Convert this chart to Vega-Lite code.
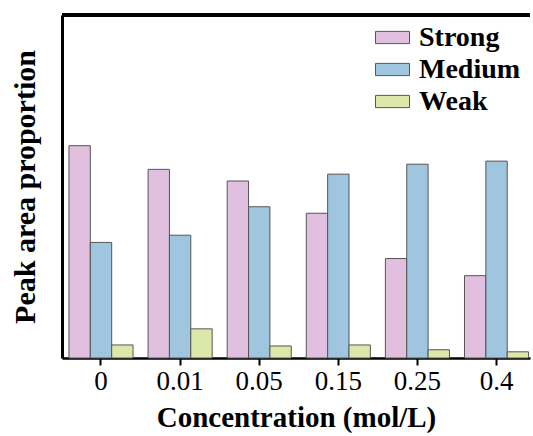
{
  "$schema": "https://vega.github.io/schema/vega-lite/v6.json",
  "width": 468,
  "height": 343,
  "autosize": {"type": "none"},
  "padding": {"left": 62, "top": 15, "right": 3, "bottom": 78},
  "background": "white",
  "config": {"view": {"stroke": null}, "font": "Liberation Serif, Times New Roman, serif"},
  "data": {
    "values": [
      {"conc": "0", "type": "Strong", "value": 0.619},
      {"conc": "0", "type": "Medium", "value": 0.337},
      {"conc": "0", "type": "Weak", "value": 0.038},
      {"conc": "0.01", "type": "Strong", "value": 0.550},
      {"conc": "0.01", "type": "Medium", "value": 0.358},
      {"conc": "0.01", "type": "Weak", "value": 0.085},
      {"conc": "0.05", "type": "Strong", "value": 0.516},
      {"conc": "0.05", "type": "Medium", "value": 0.441},
      {"conc": "0.05", "type": "Weak", "value": 0.035},
      {"conc": "0.15", "type": "Strong", "value": 0.422},
      {"conc": "0.15", "type": "Medium", "value": 0.536},
      {"conc": "0.15", "type": "Weak", "value": 0.038},
      {"conc": "0.25", "type": "Strong", "value": 0.290},
      {"conc": "0.25", "type": "Medium", "value": 0.565},
      {"conc": "0.25", "type": "Weak", "value": 0.024},
      {"conc": "0.4", "type": "Strong", "value": 0.240},
      {"conc": "0.4", "type": "Medium", "value": 0.574},
      {"conc": "0.4", "type": "Weak", "value": 0.018}
    ]
  },
  "layer": [
    {
      "mark": {"type": "bar", "stroke": "#555555", "strokeWidth": 1},
      "encoding": {
        "x": {
          "field": "conc", "type": "nominal",
          "sort": ["0", "0.01", "0.05", "0.15", "0.25", "0.4"],
          "scale": {"paddingInner": 0.19, "paddingOuter": 0.053, "align": 0.83},
          "title": "Concentration (mol/L)",
          "axis": {
            "labelAngle": 0, "labelFontSize": 27, "labelColor": "black", "labelFont": "Liberation Serif, Times New Roman, serif",
            "labelPadding": 3, "tickSize": 7, "tickWidth": 2, "tickColor": "black",
            "domainColor": "black", "domainWidth": 2.5,
            "titleFontSize": 29, "titleFontWeight": "bold", "titleColor": "black", "titlePadding": 9, "titleFont": "Liberation Serif, Times New Roman, serif"
          }
        },
        "xOffset": {
          "field": "type", "type": "nominal",
          "sort": ["Strong", "Medium", "Weak"],
          "scale": {"paddingInner": 0, "paddingOuter": 0}
        },
        "y": {
          "field": "value", "type": "quantitative",
          "scale": {"domain": [0, 1]},
          "title": "Peak area proportion",
          "axis": {
            "labels": false, "ticks": false, "grid": false,
            "domainColor": "black", "domainWidth": 3,
            "titleFontSize": 30, "titleFontWeight": "bold", "titleColor": "black", "titlePadding": 22, "titleFont": "Liberation Serif, Times New Roman, serif"
          }
        },
        "color": {
          "field": "type", "type": "nominal",
          "sort": ["Strong", "Medium", "Weak"],
          "scale": {"domain": ["Strong", "Medium", "Weak"], "range": ["#E1BFDF", "#A0C5DF", "#DCE8AA"]},
          "legend": {
            "orient": "none", "legendX": 313, "legendY": 5, "title": null,
            "symbolType": "M-1,-0.36H1V0.36H-1Z", "symbolSize": 1156,
            "symbolStrokeColor": "#555555", "symbolStrokeWidth": 1, "symbolOpacity": 1,
            "labelFont": "Liberation Serif, Times New Roman, serif", "labelFontSize": 28, "labelFontWeight": "bold", "labelColor": "black",
            "labelOffset": 9, "rowPadding": 0, "padding": 0
          }
        }
      }
    },
    {
      "mark": {"type": "rule", "color": "black", "strokeWidth": 3},
      "encoding": {"y": {"datum": 1}}
    }
  ]
}
